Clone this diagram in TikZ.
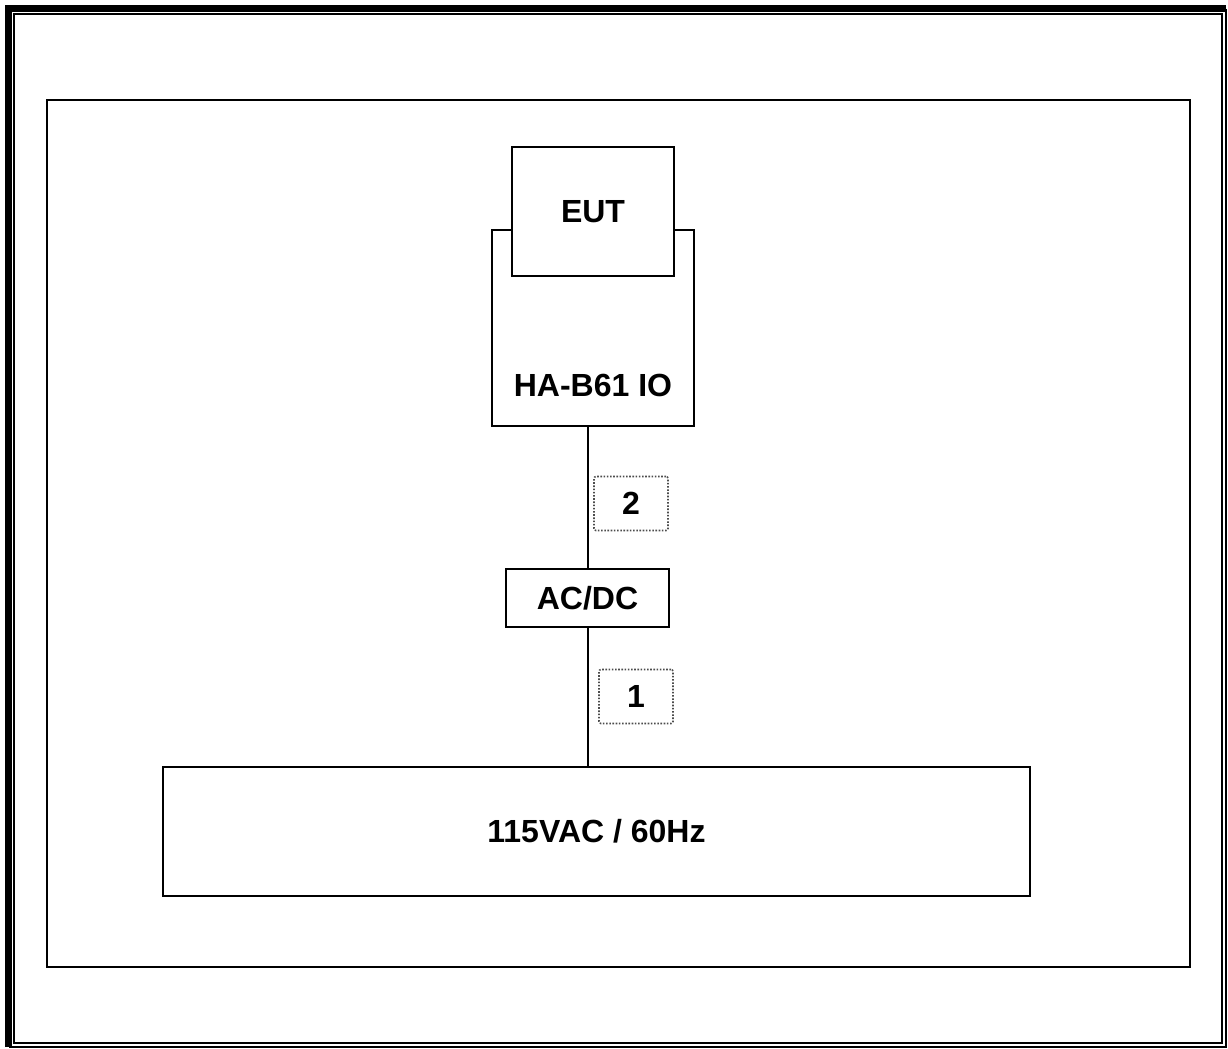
\documentclass[tikz,border=0pt]{standalone}
\usepackage{fontspec}
\setmainfont{Liberation Sans}
\usetikzlibrary{positioning}

\begin{document}
\begin{tikzpicture}[x=0.5pt,y=-0.5pt,font=\fontsize{16}{18}\selectfont\bfseries,
    box/.style={draw,line width=1pt,fill=white,inner sep=0pt},
    tag/.style={draw=black!70,dash pattern=on 0.8pt off 0.8pt,line width=0.8pt,rounded corners=1pt,inner sep=0pt,
      minimum width=37pt,minimum height=27pt},
    wire/.style={line width=1pt}]
    \useasboundingbox (0,0) rectangle (1228,1049);

    % Page frame
    \draw[line width=3.5pt] (8.5,1047) -- (8.5,8.5) -- (1226,8.5);
    \draw[line width=1pt] (1226,8.5) -- (1226,1047) -- (8.5,1047);
    \draw[line width=1pt] (14,14) rectangle (1222,1043);
    \draw[line width=1pt] (47,100) rectangle (1190,967);

    % Units
    \node[box,minimum width=101pt,minimum height=98pt] (ha) at (593,328) {};
    \node[above=21pt of ha.south,anchor=center] (halabel) {HA-B61 IO};
    \node[box,minimum width=81pt,minimum height=64.5pt] (eut) at (593,211.5) {EUT};
    \node[box,minimum width=81.5pt,minimum height=29pt] (acdc) at (587.5,598) {AC/DC};
    \node[box,minimum width=433.5pt,minimum height=64.5pt] (mains) at (596.5,831.5) {115VAC / 60Hz};

    % Cables
    \draw[wire] (acdc.north |- ha.south) -- (acdc.north);
    \draw[wire] (acdc.south) -- (acdc.south |- mains.north);
    \node[tag] (cable2) at (631,503.5) {2};
    \node[tag] (cable1) at (636,696.5) {1};
\end{tikzpicture}
\end{document}
